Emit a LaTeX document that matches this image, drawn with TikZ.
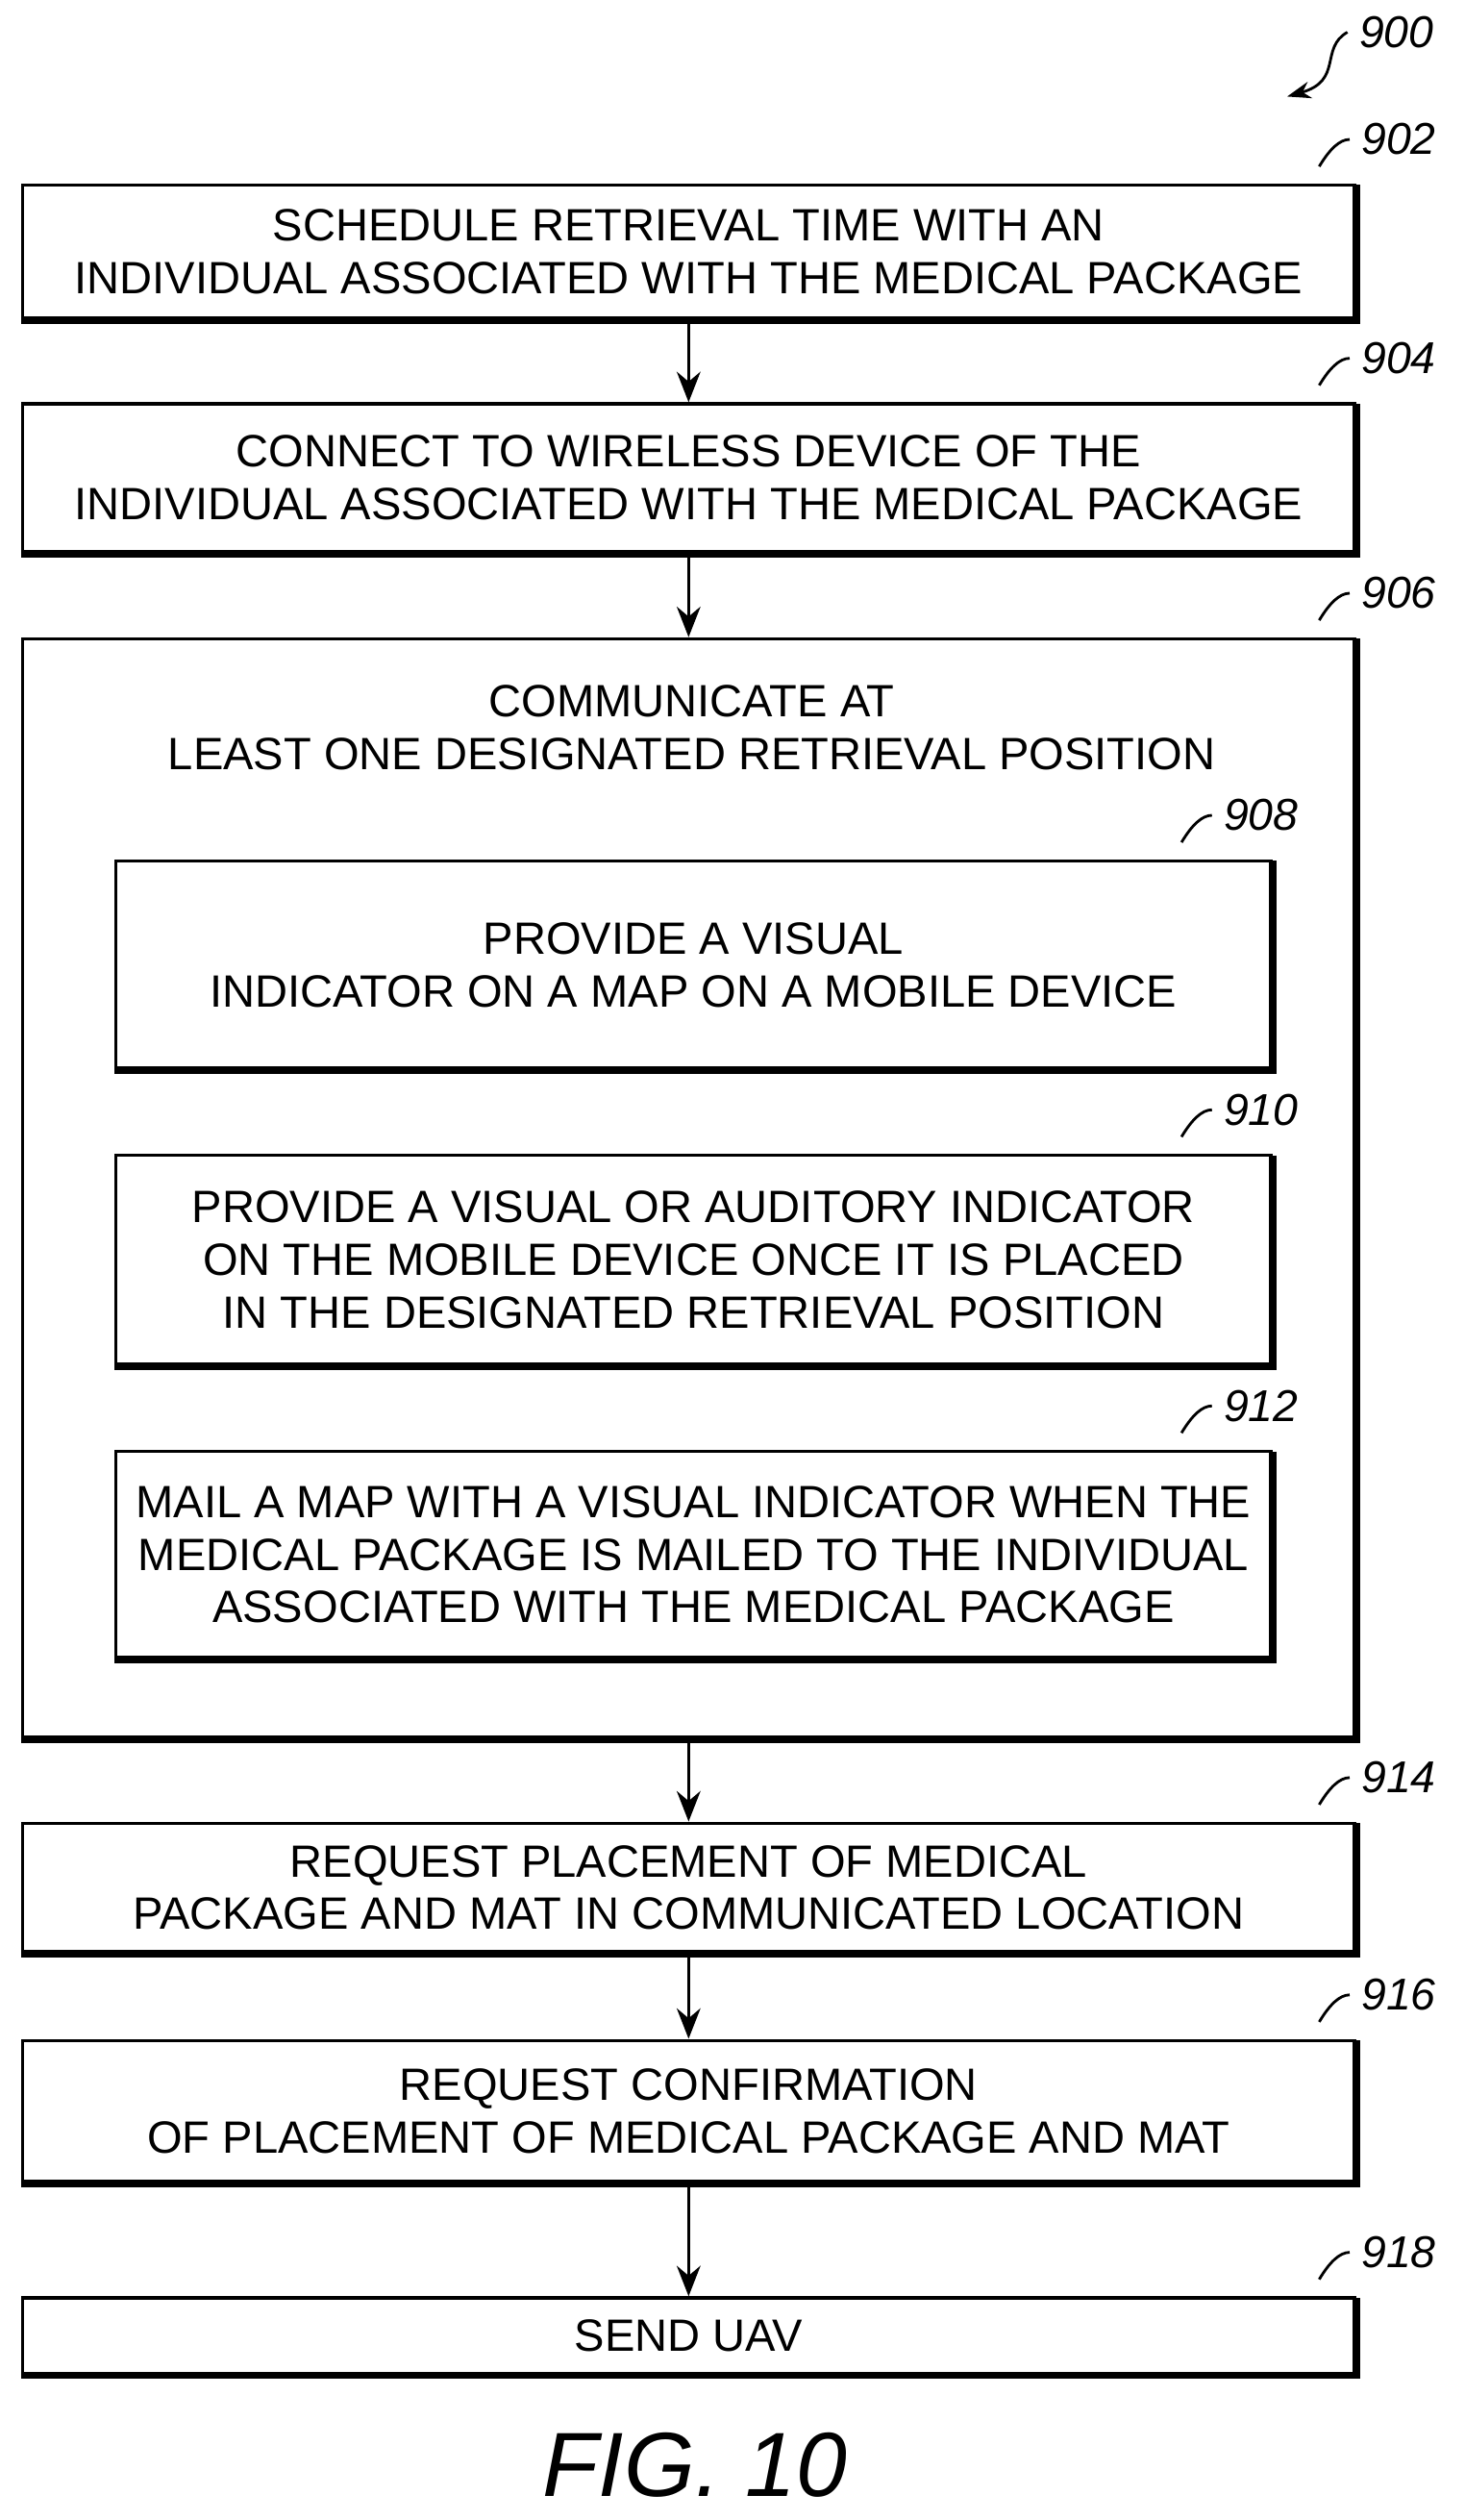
\documentclass[tikz,border=0pt]{standalone}
\usepackage{fontspec}
\setmainfont{Liberation Sans}
\usetikzlibrary{arrows.meta}
\tikzset{
  box/.style={draw, line width=1pt, inner sep=0pt, align=center, font=\fontsize{13.4}{15.6}\selectfont},
  refnum/.style={font=\itshape\fontsize{13.2}{15}\selectfont},
  flow/.style={-{Stealth[length=9pt,width=7pt]}, line width=1pt}
}
\begin{document}
\begin{tikzpicture}[x=0.016736cm,y=-0.016736cm]
  \useasboundingbox (0,0) rectangle (910,1566);
  % outer steps
  \node[box, minimum width=828*0.016736cm, minimum height=83*0.016736cm] (b902) at (428,156.5) {SCHEDULE RETRIEVAL TIME WITH AN\\INDIVIDUAL ASSOCIATED WITH THE MEDICAL PACKAGE};
  \node[box, minimum width=828*0.016736cm, minimum height=92*0.016736cm] (b904) at (428,297) {CONNECT TO WIRELESS DEVICE OF THE\\INDIVIDUAL ASSOCIATED WITH THE MEDICAL PACKAGE};
  \node[box, minimum width=828*0.016736cm, minimum height=683*0.016736cm] (b906) at (428,738.5) {};
  \node[box, draw=none] (t906) at (430,452) {COMMUNICATE AT\\LEAST ONE DESIGNATED RETRIEVAL POSITION};
  % inner steps
  \node[box, minimum width=718*0.016736cm, minimum height=129*0.016736cm] (b908) at (431,599.5) {PROVIDE A VISUAL\\INDICATOR ON A MAP ON A MOBILE DEVICE};
  \node[box, minimum width=718*0.016736cm, minimum height=130*0.016736cm] (b910) at (431,783) {PROVIDE A VISUAL OR AUDITORY INDICATOR\\ON THE MOBILE DEVICE ONCE IT IS PLACED\\IN THE DESIGNATED RETRIEVAL POSITION};
  \node[box, minimum width=718*0.016736cm, minimum height=128*0.016736cm] (b912) at (431,966) {MAIL A MAP WITH A VISUAL INDICATOR WHEN THE\\MEDICAL PACKAGE IS MAILED TO THE INDIVIDUAL\\ASSOCIATED WITH THE MEDICAL PACKAGE};
  \node[box, minimum width=828*0.016736cm, minimum height=80*0.016736cm] (b914) at (428,1173) {REQUEST PLACEMENT OF MEDICAL\\PACKAGE AND MAT IN COMMUNICATED LOCATION};
  \node[box, minimum width=828*0.016736cm, minimum height=88*0.016736cm] (b916) at (428,1312) {REQUEST CONFIRMATION\\OF PLACEMENT OF MEDICAL PACKAGE AND MAT};
  \node[box, minimum width=828*0.016736cm, minimum height=47*0.016736cm] (b918) at (428,1451.5) {SEND UAV};

  % heavier right and bottom edges
  \foreach \n in {b902,b904,b906,b908,b910,b912,b914,b916,b918}
    \draw[line width=2.2pt] ([yshift=-0.5pt]\n.north east) -- (\n.south east) -- (\n.south west);

  \foreach \from/\to in {b902/b904, b904/b906, b906/b914, b914/b916, b916/b918}
    \draw[flow] (\from) -- (\to);

  % reference numerals
  \foreach \n/\t/\dx in {b902/902/-2pt, b904/904/-2pt, b906/906/-2pt, b914/914/-2pt, b916/916/-2pt, b918/918/-2pt, b908/908/-18pt, b910/910/-18pt, b912/912/-18pt}{
    \node[refnum, anchor=west] (n\t) at ([xshift=\dx,yshift=13pt]\n.north east) {\t};
    \draw[line width=0.8pt] ([xshift=\dx-9pt,yshift=5pt]\n.north east) .. controls ([xshift=\dx-6pt,yshift=10pt]\n.north east) and ([xshift=\dx-3pt,yshift=13pt]\n.north east) .. (n\t.west);
  }
  \node[refnum] (n900) at (868,20) {900};
  \coordinate (a900) at (800,60);
  \draw[line width=0.8pt, -{Stealth[length=7pt,width=5pt]}] (n900.west) .. controls (820,30) and (835,50) .. (a900);

  \node[font=\itshape\fontsize{27}{31}\selectfont] (fig) at (432,1532) {FIG. 10};
\end{tikzpicture}
\end{document}
